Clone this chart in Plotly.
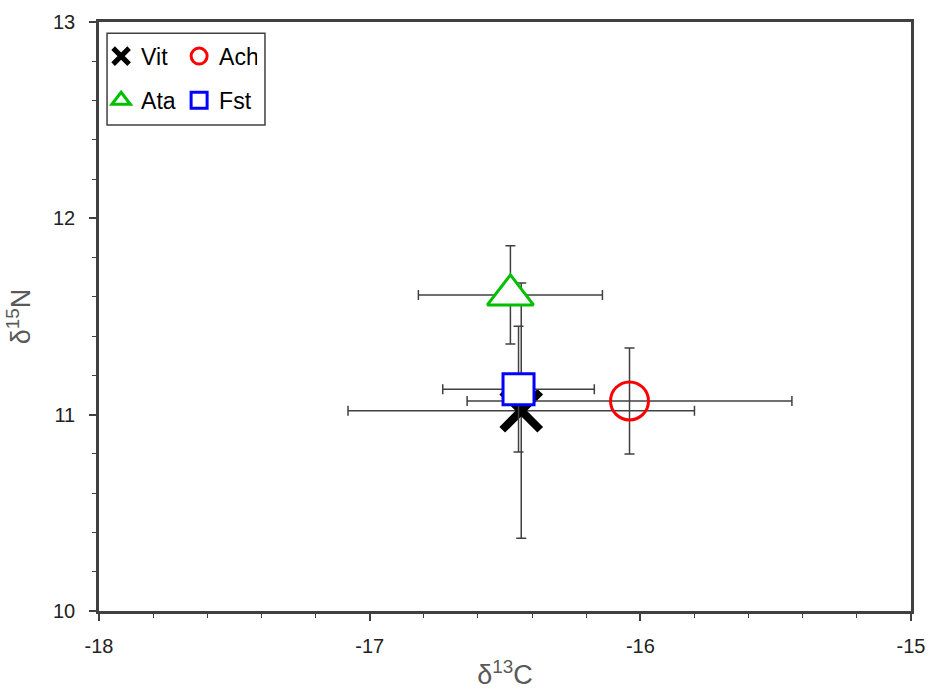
import plotly.graph_objects as go

# Data
groups = ["Vit", "Ach", "Ata", "Fst"]
d13C = [-16.44, -16.04, -16.48, -16.45]
d15N = [11.02, 11.07, 11.61, 11.13]
d13C_sd = [0.64, 0.60, 0.34, 0.28]
d15N_sd = [0.65, 0.27, 0.25, 0.32]

x_ticks = [-18, -17, -16, -15]
y_ticks = [10, 11, 12, 13]

styles = {
    "Vit": dict(symbol="x-thin-open", size=38, color="black", line=dict(width=8, color="black")),
    "Ach": dict(symbol="circle-open", size=38, color="#ff0000", line=dict(width=3, color="#ff0000")),
    "Ata": dict(symbol="triangle-up", size=40, color="white", line=dict(width=3, color="#00c000")),
    "Fst": dict(symbol="square", size=31, color="white", line=dict(width=3, color="#0000ff")),
}
legend_of = {"Vit": "legend", "Ach": "legend", "Ata": "legend2", "Fst": "legend2"}

err_col = "#404040"
fig = go.Figure()
for i, g in enumerate(groups):
    fig.add_trace(go.Scatter(
        x=[d13C[i]], y=[d15N[i]], mode="markers", name=g,
        marker=styles[g],
        error_x=dict(type="data", array=[d13C_sd[i]], color=err_col, thickness=1.5, width=5),
        error_y=dict(type="data", array=[d15N_sd[i]], color=err_col, thickness=1.5, width=5),
        legend=legend_of[g],
    ))

axis_common = dict(
    showline=True, linewidth=2.5, linecolor="#404040", mirror=True,
    showgrid=False, zeroline=False, automargin=False, ticklabeloverflow="allow",
    ticks="outside", ticklen=7, tickwidth=1.5, tickcolor="#404040",
    tickfont=dict(family="Liberation Sans Narrow, Arial Narrow, Arial", size=20, color="#222222"),
    minor=dict(ticks="outside", ticklen=4, tickwidth=1.2, tickcolor="#404040", dtick=0.2, showgrid=False),
)

fig.update_xaxes(range=[-18, -15], tickvals=x_ticks, ticktext=[str(v) for v in x_ticks],
                 title=dict(text="δ<sup>13</sup>C", font=dict(family="Arial", size=27, color="#595959"), standoff=14),
                 ticklabelstandoff=8, **axis_common)
fig.update_yaxes(range=[10, 13], tickvals=y_ticks, ticktext=[str(v) for v in y_ticks],
                 title=dict(text="δ<sup>15</sup>N", font=dict(family="Arial", size=27, color="#595959"), standoff=15),
                 ticklabelstandoff=10, **axis_common)

leg_common = dict(orientation="h", xanchor="left", yanchor="middle", bgcolor="rgba(0,0,0,0)",
                  borderwidth=0, font=dict(family="Arial", size=23, color="black"),
                  itemsizing="trace", entrywidth=33, tracegroupgap=0)

fig.update_layout(
    width=928, height=690,
    margin=dict(l=99, r=17, t=22, b=79),
    paper_bgcolor="white", plot_bgcolor="white",
    showlegend=True,
    legend=dict(x=0.0026, y=0.942, **leg_common),
    legend2=dict(x=0.0026, y=0.867, **leg_common),
    shapes=[dict(type="rect", xref="paper", yref="paper", x0=0.0099, x1=0.2044, y0=0.825, y1=0.981,
                 line=dict(color="#404040", width=1.5), fillcolor="rgba(0,0,0,0)")],
)

# remove the default page margin so the figure fills the window exactly
fig.write_html("out.html", config={"displayModeBar": False},
               post_script="document.body.style.margin='0';document.body.style.overflow='hidden';")
